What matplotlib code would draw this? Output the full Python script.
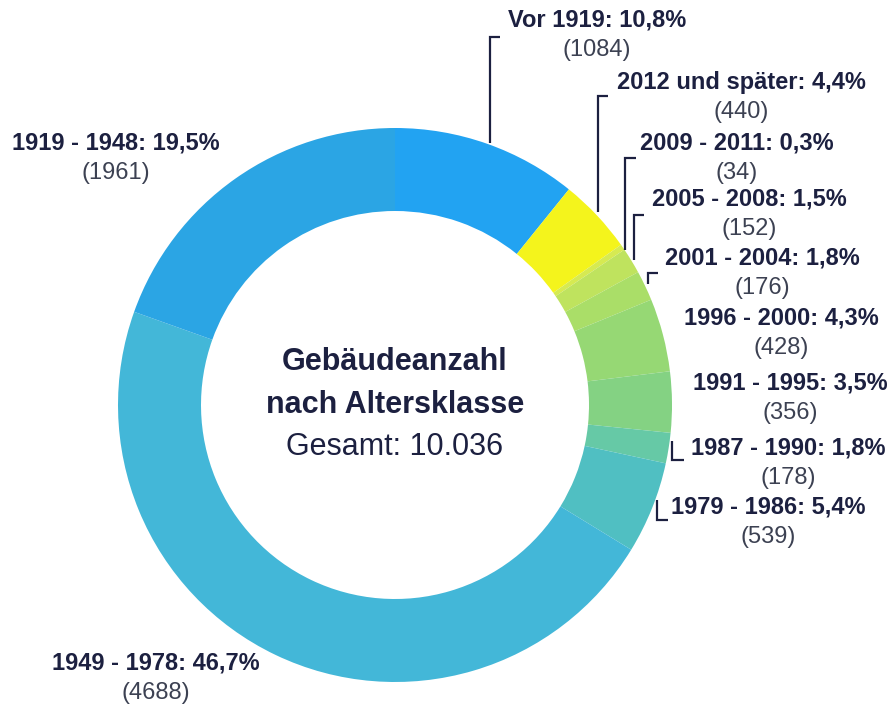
import matplotlib
matplotlib.use("Agg")
from matplotlib import pyplot as plt

# data
categories = ["Vor 1919", "2012 und später", "2009 - 2011", "2005 - 2008", "2001 - 2004",
              "1996 - 2000", "1991 - 1995", "1987 - 1990", "1979 - 1986", "1949 - 1978",
              "1919 - 1948"]
counts = [1084, 440, 34, 152, 176, 428, 356, 178, 539, 4688, 1961]
percent_labels = ["10,8%", "4,4%", "0,3%", "1,5%", "1,8%", "4,3%", "3,5%", "1,8%", "5,4%",
                  "46,7%", "19,5%"]
colors = ["#22a3f2", "#f4f41c", "#d6ea52", "#bfe35e", "#aade68", "#96d874", "#84d283",
          "#66c9a6", "#50bfc2", "#43b7d8", "#2ba5e4"]
total_text = "Gesamt: 10.036"

W, H = 891, 710
CX, CY = 395, H - 405
R_OUT, R_IN = 277, 194
TEXT = "#1c2040"
COUNT = "#3c4152"

# label positions (x center, y of first line) in pixels from top
label_pos = [(597, 20), (741, 82), (737, 143), (749, 199), (762, 258), (781, 318),
             (790, 383), (788, 448), (768, 507), (156, 663), (116, 143)]
# leader lines, pixels from top
leaders = [
    [(500, 37), (490, 37), (490, 143)],
    [(608, 96), (598, 96), (598, 212)],
    [(636, 158), (625, 158), (625, 250)],
    [(644, 215), (634, 215), (634, 260)],
    [(658, 273), (648, 273), (648, 284)],
    None,
    None,
    [(672, 441), (672, 460), (684, 460)],
    [(657, 500), (657, 520), (668, 520)],
    None,
    None,
]

plt.rcParams["font.family"] = ["Liberation Sans", "DejaVu Sans"]

fig = plt.figure(figsize=(W / 100, H / 100), dpi=100)
ax = fig.add_axes([0, 0, 1, 1])
ax.axis("off")

ax.pie(counts, colors=colors, startangle=90, counterclock=False,
       center=(CX, CY), radius=R_OUT,
       wedgeprops=dict(width=R_OUT - R_IN, linewidth=0))
ax.set_xlim(0, W)
ax.set_ylim(0, H)
ax.set_aspect("equal")

for cat, pct, n, (x, y), ld in zip(categories, percent_labels, counts, label_pos, leaders):
    ax.text(x, H - y, f"{cat}: {pct}", ha="center", va="center", fontsize=17,
            fontweight="bold", color=TEXT)
    ax.text(x, H - y - 30, f"({n})", ha="center", va="center", fontsize=17, color=COUNT)
    if ld:
        ax.plot([p[0] for p in ld], [H - p[1] for p in ld], color=TEXT, lw=1.6,
                solid_capstyle="butt", solid_joinstyle="miter")

ax.text(CX, H - 362, "Gebäudeanzahl", ha="center", va="center", fontsize=22,
        fontweight="bold", color=TEXT)
ax.text(CX, H - 405, "nach Altersklasse", ha="center", va="center", fontsize=22,
        fontweight="bold", color=TEXT)
ax.text(CX, H - 447, total_text, ha="center", va="center", fontsize=22, color=TEXT)

fig.savefig("out.png", dpi=100)
